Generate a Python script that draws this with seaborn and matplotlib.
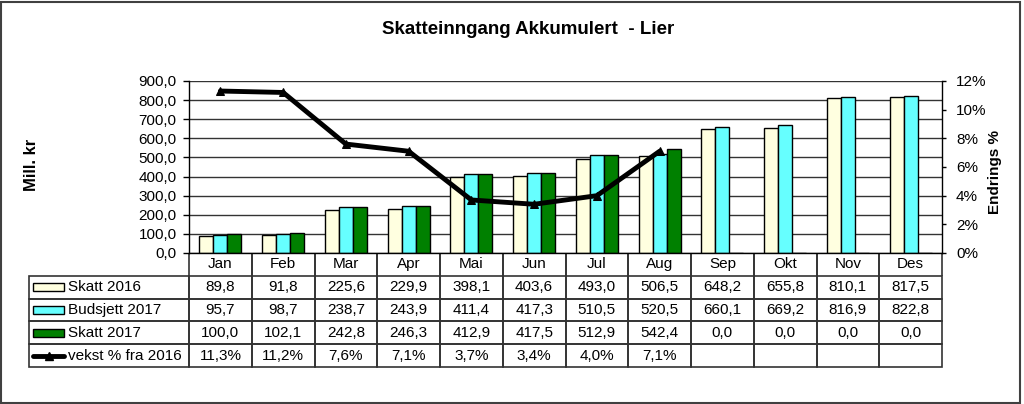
import numpy as np
import pandas as pd
import matplotlib
matplotlib.use("Agg")
import matplotlib.pyplot as plt
import seaborn as sns
from matplotlib.patches import Rectangle
from matplotlib.lines import Line2D

# ---------------- data ----------------
months = ["Jan", "Feb", "Mar", "Apr", "Mai", "Jun", "Jul", "Aug", "Sep", "Okt", "Nov", "Des"]
skatt_2016 = [89.8, 91.8, 225.6, 229.9, 398.1, 403.6, 493.0, 506.5, 648.2, 655.8, 810.1, 817.5]
budsjett_2017 = [95.7, 98.7, 238.7, 243.9, 411.4, 417.3, 510.5, 520.5, 660.1, 669.2, 816.9, 822.8]
skatt_2017 = [100.0, 102.1, 242.8, 246.3, 412.9, 417.5, 512.9, 542.4, 0.0, 0.0, 0.0, 0.0]
vekst_pct = [11.3, 11.2, 7.6, 7.1, 3.7, 3.4, 4.0, 7.1]
series_names = ["Skatt 2016", "Budsjett 2017", "Skatt 2017"]
line_name = "vekst % fra 2016"
left_ticks = [0, 100, 200, 300, 400, 500, 600, 700, 800, 900]
right_ticks = [0, 2, 4, 6, 8, 10, 12]
title = "Skatteinngang Akkumulert  - Lier"
colors = ["#FFFFE0", "#66FFFF", "#008000"]

sns.set_theme(style="white")
plt.rcParams["font.family"] = ["Liberation Sans", "DejaVu Sans"]
plt.rcParams["text.color"] = "black"

W, H = 1024, 404
L, R, T, B = 189, 942, 81, 253
fig = plt.figure(figsize=(W / 100, H / 100), dpi=100)
fig.patch.set_facecolor("white")
ax = fig.add_axes([L / W, 1 - B / H, (R - L) / W, (B - T) / H])

df = pd.DataFrame({
    "month": months * 3,
    "value": skatt_2016 + budsjett_2017 + skatt_2017,
    "series": np.repeat(series_names, len(months)),
})
sns.barplot(data=df, x="month", y="value", hue="series", order=months,
            hue_order=series_names, palette=colors, saturation=1,
            edgecolor="black", linewidth=1, width=0.67, errorbar=None,
            legend=False, ax=ax)

ax.set_xlim(-0.5, len(months) - 0.5)
ax.set_ylim(0, 900)
ax.set_yticks(left_ticks)
ax.set_yticklabels([f"{v:.1f}".replace(".", ",") for v in left_ticks], fontsize=11, color="black")
ax.set_xticks(range(len(months)))
ax.set_xticklabels([])
ax.tick_params(axis="x", length=0)
ax.tick_params(axis="y", left=True, length=4, width=1, color="black", direction="out", pad=5)
ax.set_xlabel("")
ax.set_ylabel("")
ax.yaxis.grid(True, color="#333333", linewidth=1)
ax.xaxis.grid(False)
ax.set_axisbelow(True)
ax.spines["top"].set_visible(False)
ax.spines["right"].set_visible(False)
for s in ["left", "bottom"]:
    ax.spines[s].set_color("black")
    ax.spines[s].set_linewidth(1)

ax2 = ax.twinx()
sns.lineplot(x=np.arange(len(vekst_pct)), y=vekst_pct, ax=ax2, color="black",
             linewidth=3.5, marker="^", markersize=6, markeredgecolor="black",
             sort=False)
ax2.set_ylim(0, 12)
ax2.set_yticks(right_ticks)
ax2.set_yticklabels([f"{v}%" for v in right_ticks], fontsize=11, color="black")
ax2.tick_params(axis="y", right=True, length=3, width=1, color="black", direction="out", pad=7)
ax2.grid(False)
ax2.set_ylabel("")
for s in ["top", "left", "bottom"]:
    ax2.spines[s].set_visible(False)
ax2.spines["right"].set_color("black")
ax2.spines["right"].set_linewidth(1)

# ---------------- text ----------------
fig.text(528 / W, 1 - 30 / H, title, ha="center", va="center", fontsize=13.5, fontweight="bold")
fig.text(32 / W, 1 - 165 / H, "Mill. kr", rotation=90, ha="center", va="center", fontsize=12, fontweight="bold")
fig.text(995 / W, 1 - 172 / H, "Endrings %", rotation=90, ha="center", va="center", fontsize=11, fontweight="bold")

# ---------------- data table ----------------
def fmt(v):
    return f"{v:.1f}".replace(".", ",")

row_h = 22.8
LBL = 160
cell_text = [[""] + months]
for vals in [skatt_2016, budsjett_2017, skatt_2017]:
    cell_text.append([""] + [fmt(v) for v in vals])
cell_text.append([""] + [fmt(v) + "%" for v in vekst_pct] + [""] * (len(months) - len(vekst_pct)))

col_w = (R - L) / len(months)
tbl = ax.table(cellText=cell_text, cellLoc="center",
               colWidths=[LBL] + [col_w] * len(months),
               bbox=[-LBL / (R - L), -5 * row_h / (B - T), (LBL + R - L) / (R - L), 5 * row_h / (B - T)])
tbl.auto_set_font_size(False)
tbl.set_fontsize(11)
for (r, c), cell in tbl.get_celld().items():
    cell.set_edgecolor("#333333")
    cell.set_linewidth(1.2)
    cell.set_facecolor("none")
    if r == 0:
        cell.visible_edges = "LR" if c > 0 else "open"

labels = series_names + [line_name]
for i, name in enumerate(labels):
    yc = B + (i + 1.5) * row_h
    fig.text(68 / W, 1 - yc / H, name, ha="left", va="center", fontsize=11)
    if i < len(series_names):
        fig.add_artist(Rectangle((33 / W, 1 - (yc + 4) / H), 31 / W, 8 / H,
                                 transform=fig.transFigure, facecolor=colors[i],
                                 edgecolor="black", linewidth=1))
    else:
        fig.add_artist(Line2D([33 / W, 64 / W], [1 - yc / H] * 2, transform=fig.transFigure,
                              color="black", linewidth=3.5))
        fig.add_artist(Line2D([48.5 / W], [1 - yc / H], transform=fig.transFigure,
                              color="black", marker="^", markersize=6, linestyle="none"))

fig.add_artist(Rectangle((1 / W, 1 / H), 1019 / W, 401 / H, transform=fig.transFigure,
                         fill=False, edgecolor="#404040", linewidth=1.5))

fig.savefig("out.png", dpi=100)
